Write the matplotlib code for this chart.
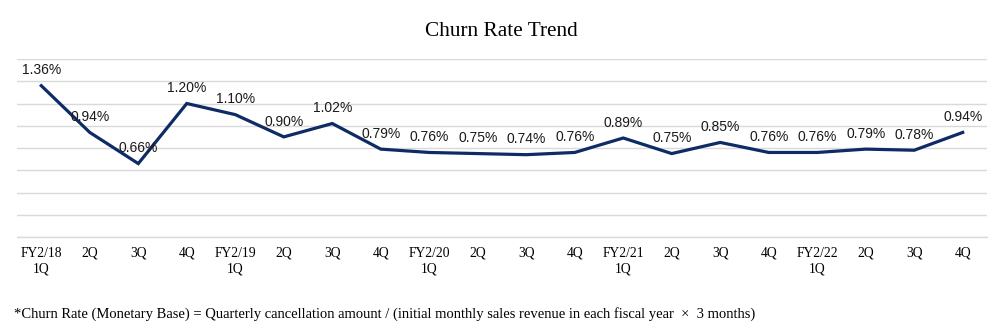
import matplotlib
matplotlib.use("Agg")
import matplotlib.pyplot as plt

quarters = ["FY2/18\n1Q", "2Q", "3Q", "4Q",
            "FY2/19\n1Q", "2Q", "3Q", "4Q",
            "FY2/20\n1Q", "2Q", "3Q", "4Q",
            "FY2/21\n1Q", "2Q", "3Q", "4Q",
            "FY2/22\n1Q", "2Q", "3Q", "4Q"]
churn_rate = [1.36, 0.94, 0.66, 1.20,
              1.10, 0.90, 1.02, 0.79,
              0.76, 0.75, 0.74, 0.76,
              0.89, 0.75, 0.85, 0.76,
              0.76, 0.79, 0.78, 0.94]

serif = "Liberation Serif"

fig = plt.figure(figsize=(10.03, 3.36), dpi=100)
ax = fig.add_axes([0.017, 0.2946, 0.967, 0.5298])

x = list(range(len(quarters)))
ax.plot(x, churn_rate, color="#0e2b66", linewidth=2.3, solid_joinstyle="miter", zorder=3)

for xi, v in zip(x, churn_rate):
    ax.annotate(f"{v:.2f}%", (xi, v), xytext=(0, 11), textcoords="offset points",
                ha="center", va="center", fontsize=10, family="Liberation Sans",
                color="#1a1a1a")

ax.set_xlim(-0.5, len(quarters) - 0.5)
ax.set_ylim(0, 1.6)
ax.set_yticks([i * 0.2 for i in range(9)])
ax.yaxis.grid(True, color="#d9d9d9", linewidth=1)
ax.set_axisbelow(True)
ax.tick_params(axis="y", left=False, labelleft=False)
ax.tick_params(axis="x", length=0, pad=7)
ax.set_xticks(x)
ax.set_xticklabels(quarters, fontsize=9.8, family=serif, linespacing=1.25)
for side in ["top", "left", "right"]:
    ax.spines[side].set_visible(False)
ax.spines["bottom"].set_color("#d9d9d9")
ax.spines["bottom"].set_linewidth(1)

fig.text(0.5, 1 - 31 / 336, "Churn Rate Trend", ha="center", va="center",
         fontsize=15.3, family=serif)
fig.text(14 / 1003, 1 - 314 / 336,
         "*Churn Rate (Monetary Base) = Quarterly cancellation amount / "
         "(initial monthly sales revenue in each fiscal year  \u00d7  3 months)",
         ha="left", va="center", fontsize=10.5, family=serif)

fig.savefig("out.png", dpi=100)
